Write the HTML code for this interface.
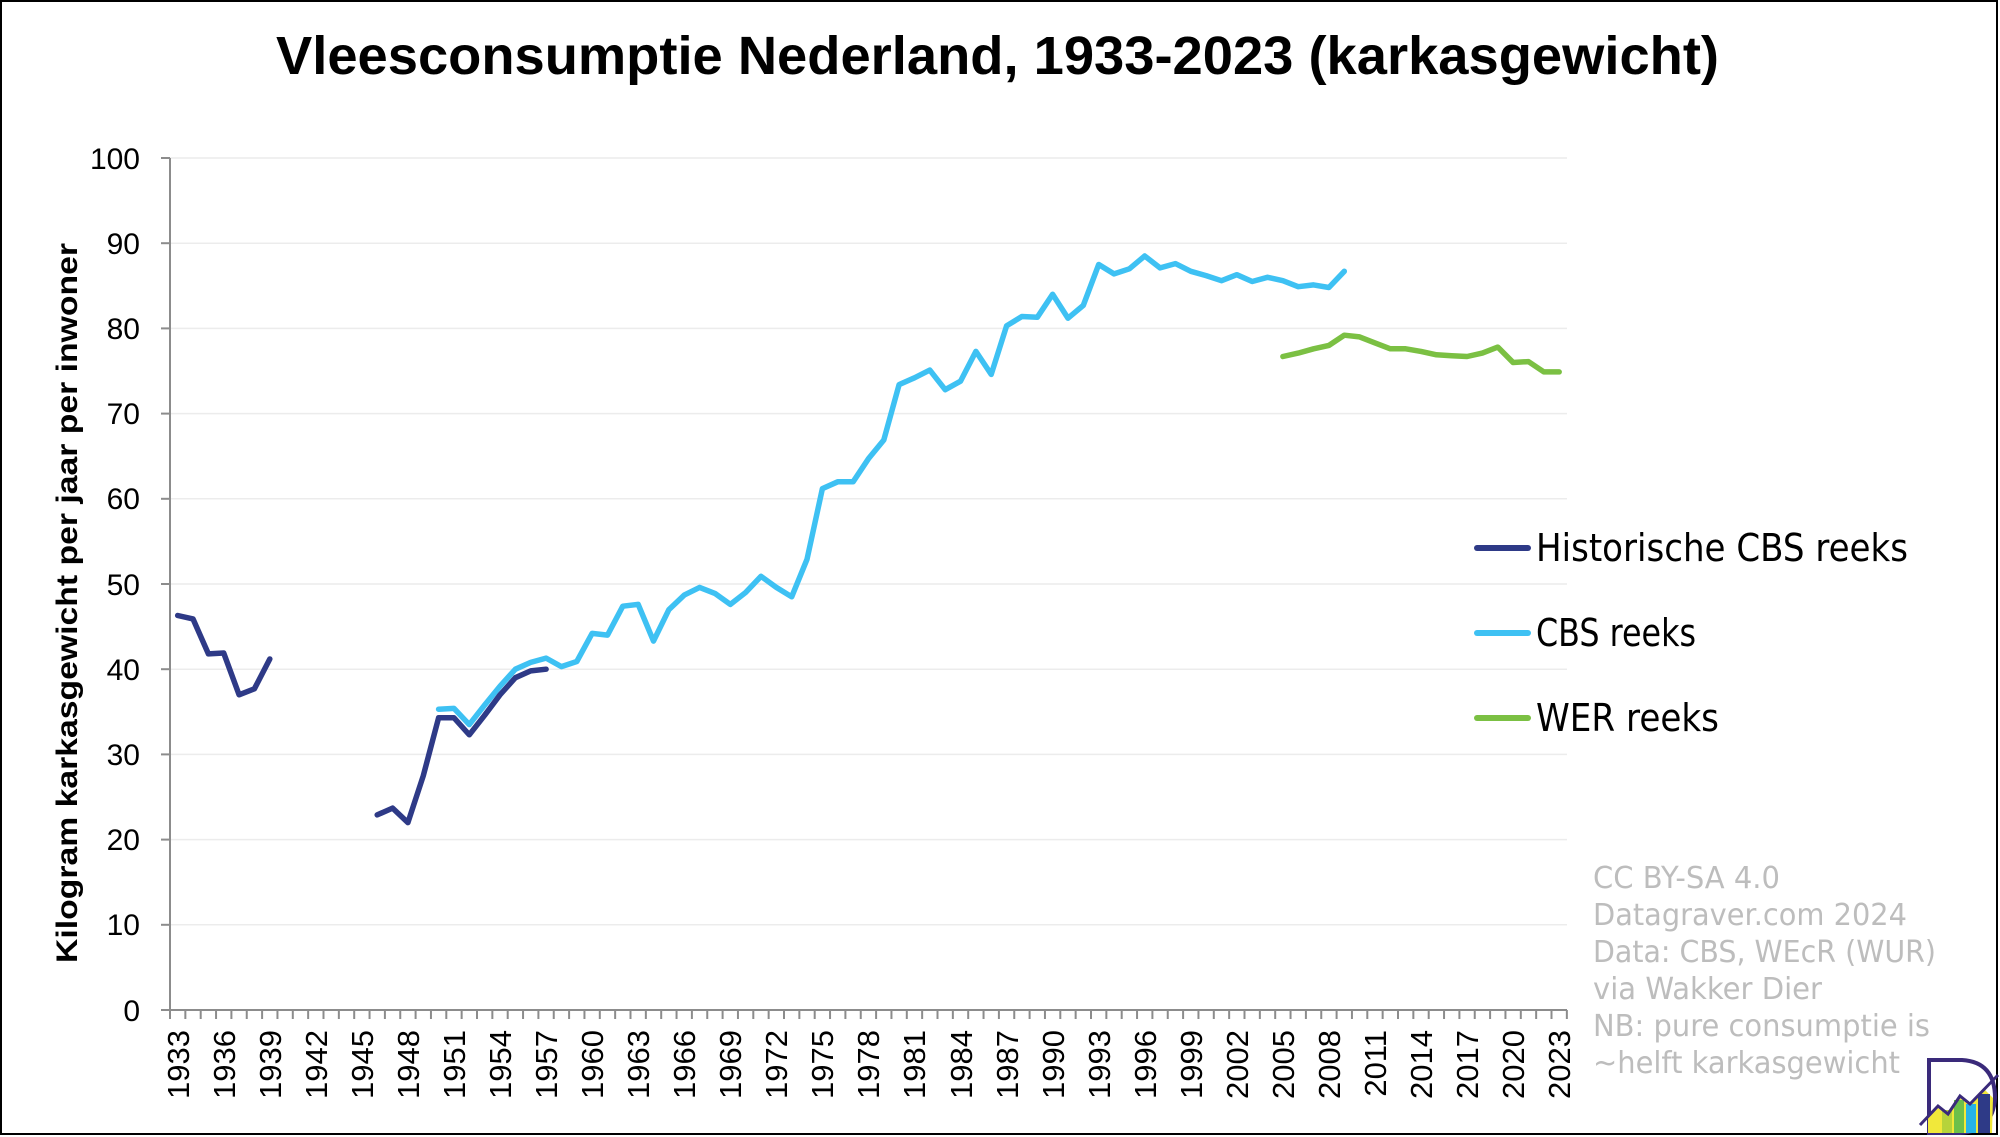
<!DOCTYPE html>
<html><head><meta charset="utf-8"><style>
html,body{margin:0;padding:0;background:#fff;}
svg{display:block;}
</style></head><body>
<svg id="c" width="2000" height="1137" viewBox="0 0 2000 1137" xmlns="http://www.w3.org/2000/svg" font-family="Liberation Sans, DejaVu Sans, sans-serif">
<rect x="0" y="0" width="2000" height="1137" fill="#fff"/>
<rect x="1" y="1" width="1996" height="1133" fill="none" stroke="#000" stroke-width="2"/>
<text x="276" y="74" font-size="54" font-weight="bold" textLength="1443" lengthAdjust="spacingAndGlyphs">Vleesconsumptie Nederland, 1933-2023 (karkasgewicht)</text>
<g id="grid" stroke="#ececec" stroke-width="1.5">
<line x1="170" x2="1567" y1="158" y2="158"/><line x1="170" x2="1567" y1="243.2" y2="243.2"/>
<line x1="170" x2="1567" y1="328.4" y2="328.4"/><line x1="170" x2="1567" y1="413.6" y2="413.6"/>
<line x1="170" x2="1567" y1="498.8" y2="498.8"/><line x1="170" x2="1567" y1="584" y2="584"/>
<line x1="170" x2="1567" y1="669.2" y2="669.2"/><line x1="170" x2="1567" y1="754.4" y2="754.4"/>
<line x1="170" x2="1567" y1="839.6" y2="839.6"/><line x1="170" x2="1567" y1="924.8" y2="924.8"/>
</g>
<g stroke="#8c8c8c" stroke-width="2">
<line x1="170" x2="170" y1="158" y2="1010"/>
<line x1="170" x2="1567" y1="1010" y2="1010"/>
<line x1="161" x2="170" y1="158" y2="158"/><line x1="161" x2="170" y1="243.2" y2="243.2"/>
<line x1="161" x2="170" y1="328.4" y2="328.4"/><line x1="161" x2="170" y1="413.6" y2="413.6"/>
<line x1="161" x2="170" y1="498.8" y2="498.8"/><line x1="161" x2="170" y1="584" y2="584"/>
<line x1="161" x2="170" y1="669.2" y2="669.2"/><line x1="161" x2="170" y1="754.4" y2="754.4"/>
<line x1="161" x2="170" y1="839.6" y2="839.6"/><line x1="161" x2="170" y1="924.8" y2="924.8"/>
<line x1="161" x2="170" y1="1010" y2="1010"/>
</g>
<g id="xt" stroke="#8c8c8c" stroke-width="2"></g>
<g font-size="30" text-anchor="end" fill="#000">
<text x="140" y="169">100</text><text x="140" y="254">90</text><text x="140" y="339">80</text>
<text x="140" y="424">70</text><text x="140" y="509">60</text><text x="140" y="595">50</text>
<text x="140" y="680">40</text><text x="140" y="765">30</text><text x="140" y="850">20</text>
<text x="140" y="935">10</text><text x="140" y="1021">0</text>
</g>
<g font-size="31" text-anchor="end" fill="#000">
<text transform="translate(189,1030) rotate(-90)">1933</text>
<text transform="translate(235,1030) rotate(-90)">1936</text>
<text transform="translate(281,1030) rotate(-90)">1939</text>
<text transform="translate(327,1030) rotate(-90)">1942</text>
<text transform="translate(373,1030) rotate(-90)">1945</text>
<text transform="translate(419,1030) rotate(-90)">1948</text>
<text transform="translate(465,1030) rotate(-90)">1951</text>
<text transform="translate(511,1030) rotate(-90)">1954</text>
<text transform="translate(557,1030) rotate(-90)">1957</text>
<text transform="translate(603,1030) rotate(-90)">1960</text>
<text transform="translate(649,1030) rotate(-90)">1963</text>
<text transform="translate(695,1030) rotate(-90)">1966</text>
<text transform="translate(741,1030) rotate(-90)">1969</text>
<text transform="translate(787,1030) rotate(-90)">1972</text>
<text transform="translate(833,1030) rotate(-90)">1975</text>
<text transform="translate(879,1030) rotate(-90)">1978</text>
<text transform="translate(925,1030) rotate(-90)">1981</text>
<text transform="translate(972,1030) rotate(-90)">1984</text>
<text transform="translate(1018,1030) rotate(-90)">1987</text>
<text transform="translate(1064,1030) rotate(-90)">1990</text>
<text transform="translate(1110,1030) rotate(-90)">1993</text>
<text transform="translate(1156,1030) rotate(-90)">1996</text>
<text transform="translate(1202,1030) rotate(-90)">1999</text>
<text transform="translate(1248,1030) rotate(-90)">2002</text>
<text transform="translate(1294,1030) rotate(-90)">2005</text>
<text transform="translate(1340,1030) rotate(-90)">2008</text>
<text transform="translate(1386,1030) rotate(-90)">2011</text>
<text transform="translate(1432,1030) rotate(-90)">2014</text>
<text transform="translate(1478,1030) rotate(-90)">2017</text>
<text transform="translate(1524,1030) rotate(-90)">2020</text>
<text transform="translate(1570,1030) rotate(-90)">2023</text>
</g>
<text transform="translate(77,603) rotate(-90)" font-size="30" font-weight="bold" text-anchor="middle" textLength="720" lengthAdjust="spacingAndGlyphs">Kilogram karkasgewicht per jaar per inwoner</text>
<g id="series" fill="none" stroke-width="5.5" stroke-linejoin="round" stroke-linecap="round"></g>
<g stroke-width="6" stroke-linecap="round">
<line x1="1477" x2="1528" y1="548" y2="548" stroke="#2e3a87"/>
<line x1="1477" x2="1528" y1="633" y2="633" stroke="#3ec1f3"/>
<line x1="1477" x2="1528" y1="718" y2="718" stroke="#7bc043"/>
</g>
<g font-size="38" fill="#000" font-family="DejaVu Sans, Liberation Sans, sans-serif">
<text x="1536" y="561" textLength="372" lengthAdjust="spacingAndGlyphs">Historische CBS reeks</text>
<text x="1536" y="646" textLength="160" lengthAdjust="spacingAndGlyphs">CBS reeks</text>
<text x="1536" y="731" textLength="183" lengthAdjust="spacingAndGlyphs">WER reeks</text>
</g>
<g font-size="30" fill="#bdbdbd" font-family="DejaVu Sans, Liberation Sans, sans-serif">
<text x="1593" y="888" textLength="187" lengthAdjust="spacingAndGlyphs">CC BY-SA 4.0</text>
<text x="1593" y="925" textLength="314" lengthAdjust="spacingAndGlyphs">Datagraver.com 2024</text>
<text x="1593" y="962" textLength="343" lengthAdjust="spacingAndGlyphs">Data: CBS, WEcR (WUR)</text>
<text x="1593" y="999" textLength="229" lengthAdjust="spacingAndGlyphs">via Wakker Dier</text>
<text x="1593" y="1036" textLength="337" lengthAdjust="spacingAndGlyphs">NB: pure consumptie is</text>
<text x="1593" y="1073" textLength="307" lengthAdjust="spacingAndGlyphs">~helft karkasgewicht</text>
</g>
<g>
<path d="M1929 1060 L1962 1060 Q1995 1062 1995 1098 Q1993 1131 1960 1133 L1929 1133 Z" fill="#fff" stroke="#3a2a7a" stroke-width="4"/>
<polygon points="1928,1133 1928,1118 1938,1108 1948,1116 1960,1098 1970,1106 1985,1090 1993,1098 1992,1133" fill="#f1e83a"/>
<rect x="1942" y="1110" width="10" height="23" fill="#b6d33a"/>
<rect x="1954" y="1100" width="10" height="33" fill="#6cc04a"/>
<rect x="1966" y="1104" width="10" height="29" fill="#27b3e6"/>
<rect x="1978" y="1094" width="12" height="39" fill="#2e3a87"/>
<polyline points="1920,1125 1938,1106 1948,1114 1960,1096 1970,1104 1998,1075" fill="none" stroke="#3a2a7a" stroke-width="3"/>
</g>
</svg>
<script>
(function(){
var ns="http://www.w3.org/2000/svg";
function X(y){return 170+(y-1933+0.5)*15.35;}
function Y(v){return 1010-v*8.52;}
var xt=document.getElementById('xt');
for(var i=0;i<=91;i++){var l=document.createElementNS(ns,'line');var x=170+i*15.35;
l.setAttribute('x1',x);l.setAttribute('x2',x);l.setAttribute('y1',1010);l.setAttribute('y2',1019);xt.appendChild(l);}
var hist1=[[1933,46.3],[1934,45.9],[1935,41.8],[1936,41.9],[1937,37.0],[1938,37.7],[1939,41.2]];
var hist2=[[1946,22.9],[1947,23.7],[1948,22.0],[1949,27.5],[1950,34.3],[1951,34.3],[1952,32.3],[1953,34.6],[1954,37.0],[1955,39.0],[1956,39.8],[1957,40.0]];
var cbsv=[35.3,35.4,33.5,35.8,38.0,40.0,40.8,41.3,40.3,40.9,44.2,44.0,47.4,47.6,43.3,47.0,48.7,49.6,48.9,47.6,49.0,50.9,49.6,48.5,52.9,61.2,62.0,62.0,64.7,66.9,73.4,74.2,75.1,72.8,73.8,77.3,74.6,80.3,81.4,81.3,84.0,81.2,82.7,87.5,86.4,87.0,88.5,87.1,87.6,86.7,86.2,85.6,86.3,85.5,86.0,85.6,84.9,85.1,84.8,86.7];
var werv=[76.7,77.1,77.6,78.0,79.2,79.0,78.3,77.6,77.6,77.3,76.9,76.8,76.7,77.1,77.8,76.0,76.1,74.9,74.9];
var cbs=cbsv.map(function(v,i){return [1950+i,v];});
var wer=werv.map(function(v,i){return [2005+i,v];});
var g=document.getElementById('series');
function add(d,c){var p=document.createElementNS(ns,'polyline');
p.setAttribute('points',d.map(function(a){return X(a[0]).toFixed(1)+','+Y(a[1]).toFixed(1);}).join(' '));
p.setAttribute('stroke',c);g.appendChild(p);}
add(cbs,'#3ec1f3');add(wer,'#7bc043');add(hist1,'#2e3a87');add(hist2,'#2e3a87');
})();
</script>
</body></html>
